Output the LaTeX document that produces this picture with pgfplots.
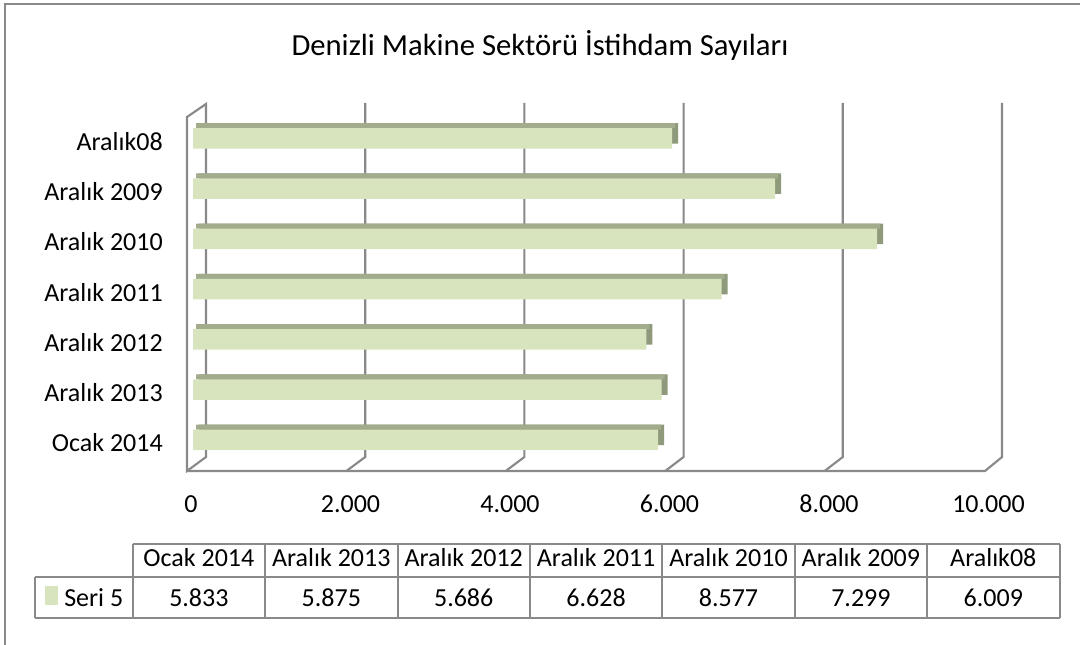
\documentclass[border=0pt]{standalone}
\usepackage{pgfplots}
\pgfplotsset{compat=1.18}
\usepackage{pgfplotstable}
\usepackage{fontspec}
\setmainfont{Carlito}
\definecolor{barfront}{HTML}{D7E4BD}
\definecolor{bartop}{HTML}{A2AC8D}
\definecolor{barside}{HTML}{8F997B}
\definecolor{gridgray}{HTML}{898989}

\pgfplotstableread{
y val
0 5833
1 5875
2 5686
3 6628
4 8577
5 7299
6 6009
}\datatable

\begin{document}
\begin{tikzpicture}[x=0.75pt,y=0.75pt]
\useasboundingbox (0,0) rectangle (1080,645);
% outer frame
\draw[gridgray, line width=1.5pt] (5,0) -- (5,641) -- (1080,641);
% title
\node[font=\fontsize{23}{27}\selectfont] at (540,600) {Denizli Makine Sektörü İstihdam Sayıları};
% walls and gridlines
\begin{scope}[gridgray, line width=1.6pt, line join=miter]
\draw (206,188) -- (206,541) -- (187,528) -- (187,174) -- cycle;
\draw (187,174) -- (985,174) -- (1002,188) -- (1002,542);
\foreach \k in {1,2,3,4}{
  \draw ({187+159.4*\k},174) -- ({206+159.2*\k},188) -- ({206+159.2*\k},542);
}
\end{scope}
\begin{axis}[
  at={(144.75pt,134.925pt)}, anchor=south west,
  scale only axis, width=598.125pt, height=263.8125pt,
  xmin=0, xmax=10000, ymin=-0.5, ymax=6.5,
  scaled x ticks=false,
  axis line style={draw=none}, tick style={draw=none},
  xtick={0,2000,4000,6000,8000,10000},
  xticklabels={0,2.000,4.000,6.000,8.000,10.000},
  ytick={0,1,2,3,4,5,6},
  yticklabels={Ocak 2014,Aralık 2013,Aralık 2012,Aralık 2011,Aralık 2010,Aralık 2009,Aralık08},
  ticklabel style={font=\fontsize{19.5}{23}\selectfont},
  xticklabel style={anchor=base, yshift=-35.2pt, xshift=-1.5pt},
  yticklabel style={anchor=base east, inner sep=0pt, xshift=-22.5pt, yshift=-9pt},
  clip=false,
]
\addplot[xbar, bar width=15.375pt, bar shift=3.75pt, xshift=4.5pt, fill=barside, draw=none] table[x=val,y=y]{\datatable};
\addplot[xbar, bar width=3.75pt, bar shift=9.56pt, xshift=2.25pt, fill=bartop, draw=none] table[x=val,y=y]{\datatable};
\addplot[xbar, bar width=15.375pt, bar shift=0pt, fill=barfront, draw=none] table[x=val,y=y]{\datatable};
\end{axis}
% data table
\begin{scope}[gridgray, line width=1.5pt]
\draw (132.7,101) -- (1059.5,101);
\draw (35,68) -- (1059.5,68);
\draw (35,27) -- (1059.5,27);
\draw (35,68) -- (35,27);
\foreach \k in {0,...,7}{
  \draw ({132.7+132.4*\k},101) -- ({132.7+132.4*\k},27);
}
\end{scope}
\begin{scope}[font=\fontsize{19.5}{23}\selectfont]
\foreach \t [count=\i from 0] in {Ocak 2014,Aralık 2013,Aralık 2012,Aralık 2011,Aralık 2010,Aralık 2009,Aralık08}{
  \node[anchor=base, inner sep=0pt] at ({198.9+132.4*\i},78) {\t};
}
\foreach \t [count=\i from 0] in {5.833,5.875,5.686,6.628,8.577,7.299,6.009}{
  \node[anchor=base, inner sep=0pt] at ({198.9+132.4*\i},38) {\t};
}
\fill[barfront] (45,40) rectangle (58,59);
\node[anchor=base west, inner sep=0pt] at (64,38) {Seri 5};
\end{scope}
\end{tikzpicture}
\end{document}
